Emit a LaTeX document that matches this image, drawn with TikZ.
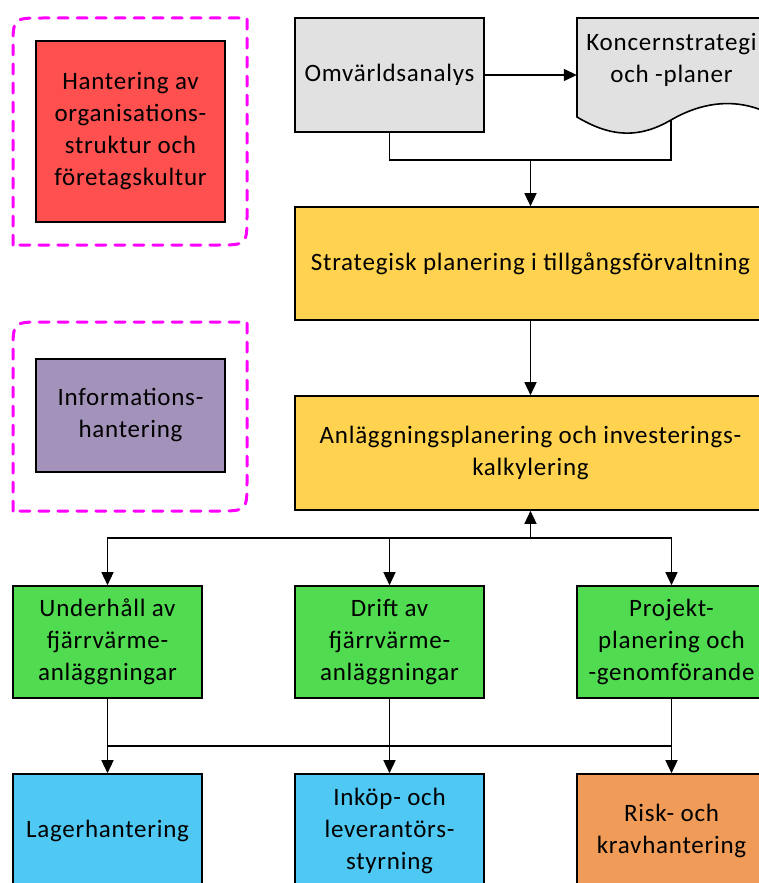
\documentclass[tikz,border=0pt]{standalone}
\usepackage{fontspec}
\setmainfont{Carlito}[LetterSpace=3]
\usetikzlibrary{arrows.meta}

\definecolor{boxgrey}{HTML}{E1E1E1}
\definecolor{boxred}{HTML}{FF5050}
\definecolor{boxpurple}{HTML}{A393BB}
\definecolor{boxyellow}{HTML}{FFD34F}
\definecolor{boxgreen}{HTML}{50DB50}
\definecolor{boxblue}{HTML}{4FC8F4}
\definecolor{boxorange}{HTML}{F09C58}
\definecolor{framepink}{HTML}{FF00FF}

\begin{document}
\begin{tikzpicture}[x=1pt,y=-1pt,
    box/.style={draw=black, line width=1.6pt, align=center, inner sep=2pt,
      minimum width=189pt, minimum height=113pt,
      font=\fontsize{25}{32}\selectfont},
    wide/.style={box, minimum width=471pt},
    flow/.style={line width=1.4pt, -{Triangle[length=13pt,width=12pt]}},
    link/.style={line width=1.4pt},
    frame/.style={draw=framepink, line width=3pt, line cap=round,
      dash pattern=on 10pt off 9pt}]
  \useasboundingbox (0,0) rectangle (759,883);

  % Dashed frames with two rounded corners
  \draw[frame] (13,245) -- (13,48) .. controls (13,18) .. (43,18) -- (247,18)
    -- (247,215) .. controls (247,245) .. (217,245) -- cycle;
  \draw[frame] (13,511) -- (13,352) .. controls (13,322) .. (43,322) -- (247,322)
    -- (247,481) .. controls (247,511) .. (217,511) -- cycle;

  % Left column
  \node[box, fill=boxred, minimum height=181pt] (orgbox) at (130.5,131.5)
    {Hantering av\\organisations-\\struktur och\\företagskultur};
  \node[box, fill=boxpurple] (infobox) at (130.5,415.5)
    {Informations-\\hantering};

  % Top row
  \node[box, fill=boxgrey, minimum height=114pt] (omvbox) at (389.5,75)
    {Omvärldsanalys};
  \draw[line width=1.6pt, fill=boxgrey] (577,18) -- (766,18) -- (766,112)
    .. controls (735,98) and (702,102) .. (671,120)
    .. controls (640,138) and (612,138) .. (577,117) -- cycle;
  \node[align=center, font=\fontsize{25}{32}\selectfont,
    minimum width=189pt, minimum height=84pt] (koncbox) at (671.5,60)
    {Koncernstrategi\\och -planer};
  \coordinate (koncfoot) at (671,120);

  % Planning boxes
  \node[wide, fill=boxyellow] (stratbox) at (530.5,263.5)
    {Strategisk planering i tillgångsförvaltning};
  \node[wide, fill=boxyellow, minimum height=114pt] (anlbox) at (530.5,453)
    {Anläggningsplanering och investerings-\\kalkylering};

  % Green row
  \node[box, fill=boxgreen, minimum height=112pt] (undbox) at (107.5,642)
    {Underhåll av\\fjärrvärme-\\anläggningar};
  \node[box, fill=boxgreen, minimum height=112pt] (driftbox) at (389.5,642)
    {Drift av\\fjärrvärme-\\anläggningar};
  \node[box, fill=boxgreen, minimum height=112pt] (projbox) at (671.5,642)
    {Projekt-\\planering och\\-genomförande};

  % Bottom row
  \node[box, fill=boxblue] (lagerbox) at (107.5,830.5) {Lagerhantering};
  \node[box, fill=boxblue] (inkopbox) at (389.5,830.5)
    {Inköp- och\\leverantörs-\\styrning};
  \node[box, fill=boxorange] (riskbox) at (671.5,830.5)
    {Risk- och\\kravhantering};

  % Join points
  \coordinate (topjoin) at (530.5,160);
  \coordinate (midjoin) at (530.5,538);
  \coordinate (lowjoin) at (389.5,746);

  % Draw the connectors
  \draw[flow] (omvbox.east) -- (omvbox.east -| koncbox.west);
  \draw[link] (omvbox.south) |- (topjoin) -| (koncfoot);
  \draw[flow] (topjoin) -- (stratbox.north);
  \draw[flow] (stratbox) -- (anlbox);
  \draw[flow] (midjoin) -- (anlbox.south);
  \draw[flow] (midjoin) -| (undbox.north);
  \draw[flow] (midjoin) -| (projbox.north);
  \draw[flow] (driftbox.north |- midjoin) -- (driftbox.north);
  \draw[flow] (undbox) -- (lagerbox);
  \draw[flow] (driftbox) -- (inkopbox);
  \draw[flow] (projbox) -- (riskbox);
  \draw[link] (undbox.south |- lowjoin) -- (projbox.south |- lowjoin);
\end{tikzpicture}
\end{document}
